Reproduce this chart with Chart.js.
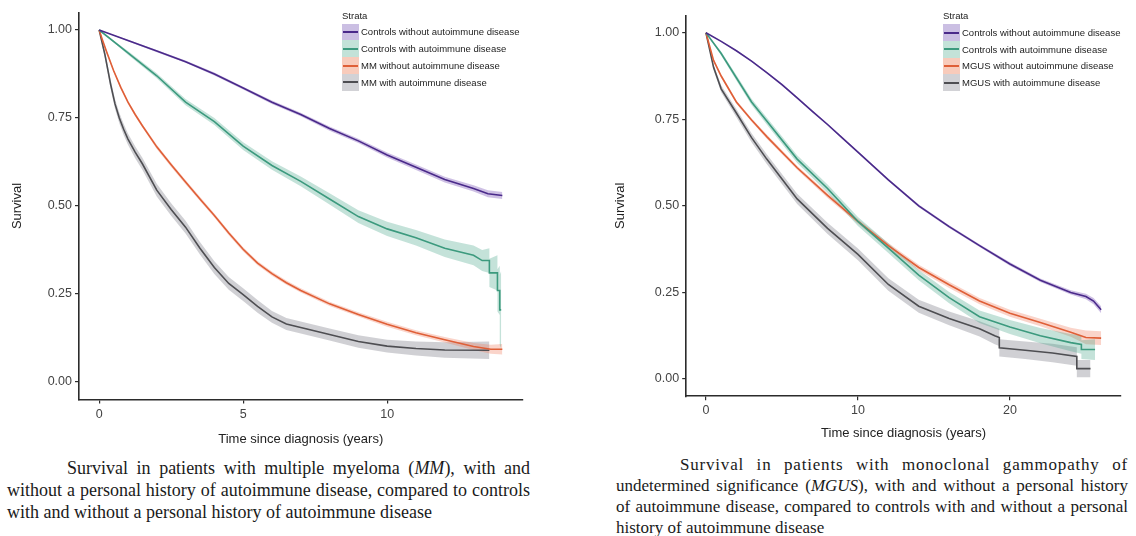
<!DOCTYPE html>
<html><head><meta charset="utf-8">
<script src="https://cdn.jsdelivr.net/npm/chart.js@4.4.1/dist/chart.umd.min.js"></script>
<style>
html,body{margin:0;padding:0;background:#fff;width:1136px;height:536px;overflow:hidden;position:relative}
canvas{position:absolute}
.legend{position:absolute;font-family:"Liberation Sans",Arial,sans-serif;font-size:9.5px;color:#222}
.legend .ttl{height:17px;line-height:17px}
.legend .row{display:flex;align-items:center;height:16.8px}
.legend .key{width:17px;height:16.8px;position:relative;margin-right:2px}
.legend .key i{position:absolute;left:1px;right:1px;top:7.5px;height:2px}
.cap{position:absolute;font-family:"Liberation Serif","Times New Roman",serif;color:#1a1a1a}
.cap div{white-space:nowrap;text-align:justify;text-align-last:justify}
.cap div.last{text-align-last:left}
</style>
</head><body>
<canvas id="c1" width="540" height="452" style="left:0;top:0;width:540px;height:452px"></canvas>
<canvas id="c2" width="546" height="452" style="left:590px;top:0;width:546px;height:452px"></canvas>
<div class="legend" id="lg1" style="left:342px;top:6.5px"></div>
<div class="legend" id="lg2" style="left:943px;top:7px"></div>
<div class="cap" style="left:7px;top:457px;width:523px;line-height:22px;font-size:18px">
  <div style="margin-left:60px">Survival in patients with multiple myeloma (<i>MM</i>), with and</div>
  <div>without a personal history of autoimmune disease, compared to controls</div>
  <div class="last">with and without a personal history of autoimmune disease</div>
</div>
<div class="cap" style="left:616px;top:454px;width:512px;line-height:21px;font-size:17px">
  <div style="margin-left:64px;letter-spacing:0.8px">Survival in patients with monoclonal gammopathy of</div>
  <div>undetermined significance (<i>MGUS</i>), with and without a personal history</div>
  <div>of autoimmune disease, compared to controls with and without a personal</div>
  <div class="last">history of autoimmune disease</div>
</div>
<script>
// ---------- tick labels & categories ----------
const yTicks = [0, 0.25, 0.5, 0.75, 1];
const mmXTicks = [0, 5, 10];
const mgusXTicks = [0, 10, 20];
const legendTitle = "Strata";
const mmLabels = ["Controls without autoimmune disease","Controls with autoimmune disease","MM without autoimmune disease","MM with autoimmune disease"];
const mgusLabels = ["Controls without autoimmune disease","Controls with autoimmune disease","MGUS without autoimmune disease","MGUS with autoimmune disease"];

// ---------- MM panel (time in years, survival, CI half-width) ----------
const mmCtrlNoAI_t  = [0,1,2,3,4,5,6,7,8,9,10,11,12,13,13.5,14];
const mmCtrlNoAI_s  = [1,0.97,0.94,0.91,0.875,0.835,0.795,0.76,0.72,0.685,0.645,0.61,0.575,0.55,0.535,0.53];
const mmCtrlNoAI_hw = [0,0.002,0.003,0.003,0.004,0.004,0.005,0.005,0.006,0.006,0.007,0.008,0.008,0.009,0.01,0.01];

const mmCtrlAI_t  = [0,1,2,3,4,5,6,7,8,9,10,11,12,13,13.3,13.55,13.55,13.83,13.83,13.91,13.91,13.96];
const mmCtrlAI_s  = [1,0.935,0.87,0.795,0.74,0.67,0.615,0.57,0.52,0.47,0.435,0.41,0.38,0.36,0.345,0.345,0.31,0.31,0.26,0.26,0.205,0.205];
const mmCtrlAI_hw = [0,0.005,0.007,0.009,0.01,0.011,0.012,0.014,0.016,0.018,0.02,0.022,0.025,0.028,0.03,0.035,0.04,0.05,0.06,0.07,0.1,0.11];

const mmNoAI_t  = [0,0.1,0.25,0.5,0.75,1,1.25,1.5,2,2.5,3,3.5,4,4.5,5,5.5,6,6.5,7,8,9,10,11,12,13,13.6,14];
const mmNoAI_s  = [1,0.975,0.94,0.885,0.837,0.795,0.76,0.728,0.668,0.617,0.568,0.52,0.473,0.423,0.377,0.338,0.308,0.282,0.26,0.222,0.192,0.164,0.14,0.12,0.101,0.093,0.093];
const mmNoAI_hw = [0,0.002,0.003,0.004,0.005,0.005,0.005,0.005,0.006,0.006,0.006,0.006,0.006,0.006,0.006,0.006,0.006,0.006,0.006,0.006,0.006,0.007,0.007,0.008,0.01,0.013,0.015];

const mmAI_t  = [0,0.1,0.2,0.4,0.55,0.7,0.85,1,1.25,1.5,2,2.5,3,3.5,4,4.5,5,5.5,6,6.5,7,8,9,10,11,12,13.55];
const mmAI_s  = [1,0.965,0.93,0.845,0.79,0.75,0.718,0.69,0.653,0.62,0.545,0.49,0.44,0.38,0.325,0.28,0.248,0.215,0.185,0.165,0.155,0.135,0.115,0.102,0.095,0.091,0.09];
const mmAI_hw = [0,0.008,0.01,0.013,0.014,0.015,0.016,0.016,0.017,0.017,0.018,0.018,0.018,0.018,0.018,0.018,0.018,0.018,0.017,0.017,0.017,0.017,0.018,0.018,0.02,0.022,0.025];

// ---------- MGUS panel ----------
const mgCtrlNoAI_t  = [0,1,2,3,4,5,6,7,8,9,10,12,14,16,18,20,22,24,25,25.5,26];
const mgCtrlNoAI_s  = [1,0.975,0.948,0.918,0.885,0.85,0.812,0.773,0.735,0.695,0.655,0.575,0.5,0.44,0.385,0.332,0.285,0.25,0.238,0.225,0.2];
const mgCtrlNoAI_hw = [0,0.001,0.002,0.002,0.002,0.003,0.003,0.003,0.003,0.003,0.003,0.003,0.004,0.004,0.004,0.005,0.005,0.006,0.008,0.009,0.01];

const mgCtrlAI_t  = [0,1,2,3,4,6,8,10,12,14,16,18,20,22,24,24.7,24.7,25.6];
const mgCtrlAI_s  = [1,0.94,0.87,0.8,0.745,0.635,0.55,0.455,0.378,0.3,0.235,0.18,0.15,0.125,0.105,0.1,0.085,0.085];
const mgCtrlAI_hw = [0,0.006,0.008,0.009,0.01,0.011,0.012,0.013,0.014,0.015,0.016,0.018,0.02,0.022,0.025,0.027,0.027,0.03];

const mgNoAI_t  = [0,0.5,1,2,3,4,6,8,10,12,14,16,18,20,22,24,25,26];
const mgNoAI_s  = [1,0.92,0.875,0.8,0.748,0.7,0.61,0.53,0.455,0.385,0.322,0.272,0.225,0.19,0.163,0.135,0.12,0.118];
const mgNoAI_hw = [0,0.004,0.005,0.005,0.005,0.006,0.006,0.007,0.007,0.008,0.008,0.009,0.009,0.01,0.011,0.013,0.02,0.02];

const mgAI_t  = [0,0.5,1,2,3,4,6,8,10,12,14,16,18,19,19.3,19.3,21,22.8,24.4,24.4,25.3];
const mgAI_s  = [1,0.9,0.838,0.768,0.697,0.635,0.52,0.435,0.36,0.273,0.21,0.175,0.145,0.125,0.12,0.09,0.083,0.075,0.065,0.03,0.03];
const mgAI_hw = [0,0.008,0.01,0.012,0.013,0.014,0.015,0.016,0.017,0.018,0.019,0.02,0.022,0.025,0.025,0.025,0.025,0.027,0.027,0.025,0.025];

// ---------- styles ----------
const lineColors = ['#4a2a8a','#3c9a7e','#df5f37','#4e4e52'];
const ribbonColors = ['rgba(125,90,185,0.38)','rgba(60,160,130,0.3)','rgba(240,120,90,0.32)','rgba(110,110,120,0.32)'];
const keyFills = ['#cbbfe3','#c3e2d8','#f8cbbb','#d2d2d6'];

function pts(t, v){ return t.map((x,i)=>({x:x, y:v[i]})); }
function add(a,b,sign){ return a.map((v,i)=>v + sign*b[i]); }

function buildDatasets(series, labels){
  const ds = [];
  series.forEach((s, k) => {
    ds.push({label: labels[k]+' upper', data: pts(s[0], add(s[1], s[2], 1)), borderWidth:0, pointRadius:0,
      backgroundColor: ribbonColors[k], fill: '+1', order: 2});
    ds.push({label: labels[k]+' lower', data: pts(s[0], add(s[1], s[2], -1)), borderWidth:0, pointRadius:0,
      backgroundColor: ribbonColors[k], fill: false, order: 2});
  });
  series.forEach((s, k) => {
    ds.push({label: labels[k], data: pts(s[0], s[1]), borderColor: lineColors[k], borderWidth: 1.6,
      pointRadius: 0, fill: false, order: 0, tension: 0});
  });
  return ds;
}

function makeChart(id, series, labels, xTicks, xMin, xMax, yW, xH, pad, yTitlePad, xTitlePad){
  const font = {family: '"Liberation Sans", Arial, sans-serif', size: 12.5};
  return new Chart(document.getElementById(id), {
    type: 'line',
    data: {datasets: buildDatasets(series, labels)},
    options: {
      responsive: false, animation: false, events: [],
      layout: {padding: pad},
      plugins: {legend: {display: false}, tooltip: {enabled: false}},
      scales: {
        x: {type: 'linear', min: xMin, max: xMax,
          afterBuildTicks: s => { s.ticks = xTicks.map(v => ({value: v})); },
          afterFit: s => { s.height = xH; },
          border: {display: true, color: '#2b2b2b', width: 1.6},
          grid: {display: true, drawOnChartArea: false, drawTicks: true, tickLength: 4, color: '#2b2b2b', lineWidth: 1.2},
          ticks: {color: '#444', font: font, padding: 3, maxRotation: 0, callback: v => String(v)},
          title: {display: true, text: 'Time since diagnosis (years)', color: '#222', font: {family: font.family, size: 13}, padding: {top: 0, bottom: xTitlePad}}
        },
        y: {type: 'linear', min: -0.05, max: 1.05,
          afterBuildTicks: s => { s.ticks = yTicks.map(v => ({value: v})); },
          afterFit: s => { s.width = yW; },
          border: {display: true, color: '#2b2b2b', width: 1.6},
          grid: {display: true, drawOnChartArea: false, drawTicks: true, tickLength: 4, color: '#2b2b2b', lineWidth: 1.2},
          ticks: {color: '#444', font: font, padding: 3, callback: v => v.toFixed(2)},
          title: {display: true, text: 'Survival', color: '#222', font: {family: font.family, size: 13}, padding: {top: yTitlePad, bottom: 0}}
        }
      }
    }
  });
}

function makeLegend(id, labels){
  const el = document.getElementById(id);
  let h = '<div class="ttl">' + legendTitle + '</div>';
  labels.forEach((l, k) => {
    h += '<div class="row"><div class="key" style="background:' + keyFills[k] + '"><i style="background:' + lineColors[k] + '"></i></div>' + l + '</div>';
  });
  el.innerHTML = h;
}

makeChart('c1',
  [[mmCtrlNoAI_t, mmCtrlNoAI_s, mmCtrlNoAI_hw],[mmCtrlAI_t, mmCtrlAI_s, mmCtrlAI_hw],[mmNoAI_t, mmNoAI_s, mmNoAI_hw],[mmAI_t, mmAI_s, mmAI_hw]],
  mmLabels, mmXTicks, -0.7, 14.7, 79, 52.4, {top: 12.4, right: 17.5, left: 0, bottom: 0}, 9.2, 5.2);
makeChart('c2',
  [[mgCtrlNoAI_t, mgCtrlNoAI_s, mgCtrlNoAI_hw],[mgCtrlAI_t, mgCtrlAI_s, mgCtrlAI_hw],[mgNoAI_t, mgNoAI_s, mgNoAI_hw],[mgAI_t, mgAI_s, mgAI_hw]],
  mgusLabels, mgusXTicks, -1.3, 27.3, 96.2, 55.7, {top: 15.4, right: 15.1, left: 0, bottom: 0}, 22.2, 11.2);
makeLegend('lg1', mmLabels);
makeLegend('lg2', mgusLabels);
</script>
</body></html>
